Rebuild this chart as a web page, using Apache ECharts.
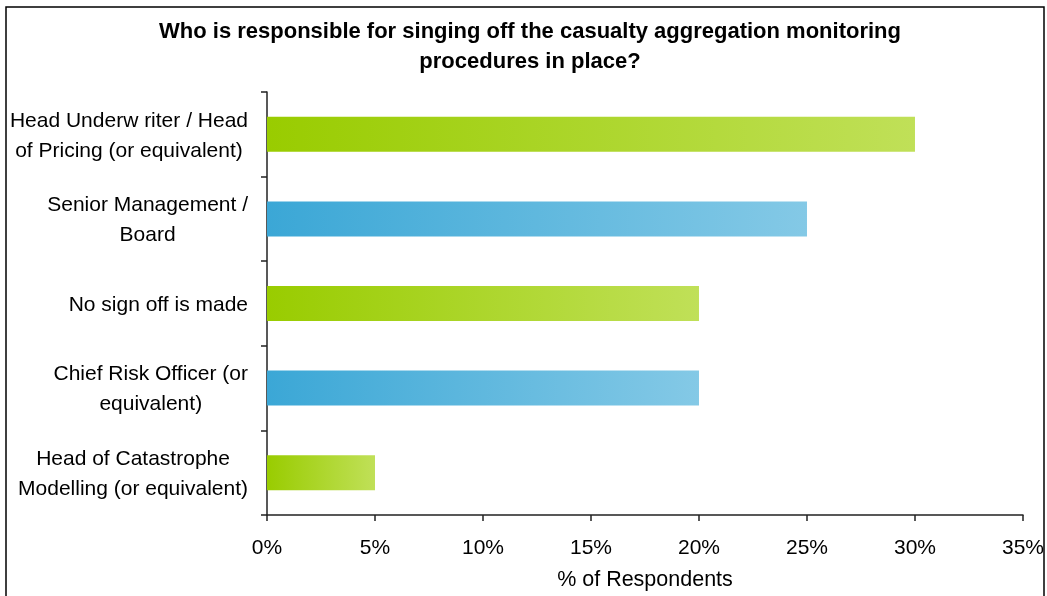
<!DOCTYPE html>
<html>
<head>
<meta charset="utf-8">
<script src="https://cdn.jsdelivr.net/npm/echarts@6/dist/echarts.min.js"></script>
<style>
  html, body { margin: 0; padding: 0; background: #fff; }
  #chart { width: 1047px; height: 596px; }
</style>
</head>
<body>
<div id="chart"></div>
<script>
// Survey answers, listed top to bottom
const categories = [
  'Head Underw riter / Head\nof Pricing (or equivalent)',
  'Senior Management /\nBoard',
  'No sign off is made',
  'Chief Risk Officer (or\nequivalent)',
  'Head of Catastrophe\nModelling (or equivalent)'
];
const respondents = [30, 25, 20, 20, 5];   // % of respondents
const barPalette = ['green', 'blue', 'green', 'blue', 'green'];
const xTicks = [0, 5, 10, 15, 20, 25, 30, 35];

const gradients = {
  green: ['#99CC00', '#C0E058'],
  blue: ['#3BA7D6', '#84C9E6']
};

function fillFor(kind) {
  const [a, b] = gradients[kind];
  return new echarts.graphic.LinearGradient(0, 0, 1, 0, [
    { offset: 0, color: a },
    { offset: 1, color: b }
  ]);
}

const FONT = '"Liberation Sans", Arial, sans-serif';
const chart = echarts.init(document.getElementById('chart'));

chart.setOption({
  animation: false,
  backgroundColor: '#fff',
  title: {
    text: 'Who is responsible for singing off the casualty aggregation monitoring\nprocedures in place?',
    left: 525,
    top: 12,
    textAlign: 'center',
    textStyle: {
      fontFamily: FONT,
      fontWeight: 'bold',
      fontSize: 22,
      lineHeight: 30,
      color: '#000'
    }
  },
  graphic: [{
    type: 'rect',
    shape: { x: 6, y: 7, width: 1038, height: 600 },
    style: { fill: 'none', stroke: '#000', lineWidth: 1.5 },
    silent: true
  }],
  grid: { left: 267, right: 24, top: 92, bottom: 79 },
  xAxis: {
    type: 'value',
    min: xTicks[0],
    max: xTicks[xTicks.length - 1],
    interval: 5,
    name: '% of Respondents',
    nameLocation: 'middle',
    nameGap: 54,
    nameTextStyle: { fontFamily: FONT, fontSize: 21.5, color: '#000' },
    axisLine: { show: true, lineStyle: { color: '#222', width: 1.5 } },
    axisTick: { show: true, inside: false, length: 6, lineStyle: { color: '#222', width: 1.5 } },
    axisLabel: {
      fontFamily: FONT, fontSize: 21, color: '#000', margin: 23,
      formatter: v => v + '%'
    },
    splitLine: { show: false }
  },
  yAxis: {
    type: 'category',
    data: categories,
    inverse: true,
    axisLine: { show: true, lineStyle: { color: '#222', width: 1.5 } },
    axisTick: { show: true, length: 6, lineStyle: { color: '#222', width: 1.5 } },
    axisLabel: {
      fontFamily: FONT, fontSize: 21, color: '#000', margin: 19,
      lineHeight: 30,
      padding: [3, 0, 0, 0],
      formatter: v => v.split('\n').map(l => '{c|' + l + '}').join('\n'),
      rich: {
        c: { align: 'center', fontFamily: FONT, fontSize: 21, lineHeight: 30, color: '#000' }
      }
    }
  },
  series: [{
    type: 'bar',
    barWidth: 35,
    data: respondents.map((v, i) => ({
      value: v,
      itemStyle: { color: fillFor(barPalette[i]) }
    }))
  }]
});
</script>
</body>
</html>
